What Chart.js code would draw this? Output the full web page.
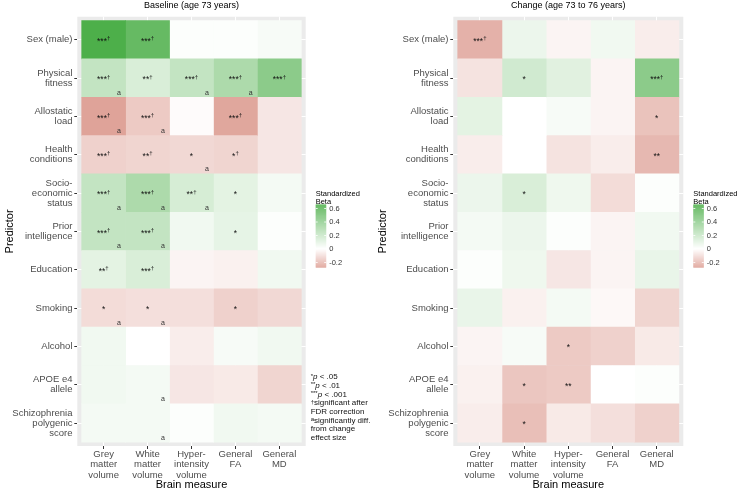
<!DOCTYPE html>
<html>
<head>
<meta charset="utf-8">
<title>Predictors of brain measures</title>
<script src="https://cdn.jsdelivr.net/npm/chart.js@4.4.1/dist/chart.umd.min.js"></script>
<style>
  html, body { margin: 0; padding: 0; background: #fff; }
  #wrap { position: relative; width: 738px; height: 490px; overflow: hidden; }
  canvas { position: absolute; top: 0; }
  #baseline { left: 0; width: 380px; height: 490px; }
  #change { left: 370px; width: 368px; height: 490px; }
</style>
</head>
<body>
<div id="wrap">
  <canvas id="baseline" width="380" height="490"></canvas>
  <canvas id="change" width="368" height="490"></canvas>
</div>
<script>
const FONT = "'Liberation Sans', Arial, Helvetica, sans-serif";

const predictors = [
  "Sex (male)",
  ["Physical", "fitness"],
  ["Allostatic", "load"],
  ["Health", "conditions"],
  ["Socio-", "economic", "status"],
  ["Prior", "intelligence"],
  "Education",
  "Smoking",
  "Alcohol",
  ["APOE e4", "allele"],
  ["Schizophrenia", "polygenic", "score"],
];
const measures = [
  ["Grey", "matter", "volume"],
  ["White", "matter", "volume"],
  ["Hyper-", "intensity", "volume"],
  ["General", "FA"],
  ["General", "MD"],
];

// standardized betas, rows = predictors, columns = brain measures
const baselineBeta = [
  [0.65, 0.56, 0.01, 0.01, 0.03],
  [0.22, 0.14, 0.22, 0.30, 0.42],
  [-0.26, -0.15, -0.01, -0.25, -0.07],
  [-0.13, -0.12, -0.11, -0.12, -0.07],
  [0.22, 0.30, 0.15, 0.10, 0.04],
  [0.22, 0.22, 0.05, 0.09, 0.01],
  [0.10, 0.14, -0.03, -0.04, 0.05],
  [-0.10, -0.09, -0.09, -0.13, -0.11],
  [0.05, 0.00, -0.05, 0.03, 0.05],
  [0.05, 0.04, -0.07, -0.06, -0.12],
  [0.04, 0.04, 0.01, 0.05, 0.04],
];
const changeBeta = [
  [-0.22, 0.07, -0.03, 0.05, -0.05],
  [-0.08, 0.17, 0.11, -0.03, 0.42],
  [0.10, 0.00, 0.03, -0.03, -0.17],
  [-0.05, 0.00, -0.08, -0.05, -0.20],
  [0.07, 0.14, 0.06, -0.10, 0.01],
  [0.04, 0.07, 0.01, -0.03, 0.05],
  [0.01, 0.06, -0.07, -0.03, 0.08],
  [0.08, -0.04, 0.04, -0.02, -0.12],
  [-0.03, 0.03, -0.15, -0.13, -0.06],
  [-0.04, -0.16, -0.15, 0.00, 0.01],
  [-0.05, -0.18, -0.06, -0.09, -0.13],
];

const baselineSig = [
  ["***†", "***†", "", "", ""],
  ["***†", "**†", "***†", "***†", "***†"],
  ["***†", "***†", "", "***†", ""],
  ["***†", "**†", "*", "*†", ""],
  ["***†", "***†", "**†", "*", ""],
  ["***†", "***†", "", "*", ""],
  ["**†", "***†", "", "", ""],
  ["*", "*", "", "*", ""],
  ["", "", "", "", ""],
  ["", "", "", "", ""],
  ["", "", "", "", ""],
];
const changeSig = [
  ["***†", "", "", "", ""],
  ["", "*", "", "", "***†"],
  ["", "", "", "", "*"],
  ["", "", "", "", "**"],
  ["", "*", "", "", ""],
  ["", "", "", "", ""],
  ["", "", "", "", ""],
  ["", "", "", "", ""],
  ["", "", "*", "", ""],
  ["", "*", "**", "", ""],
  ["", "*", "", "", ""],
];
// 1 = baseline effect significantly different from change effect
const baselineDiff = [
  [0, 0, 0, 0, 0],
  [1, 0, 1, 1, 0],
  [1, 1, 0, 0, 0],
  [0, 0, 1, 0, 0],
  [1, 1, 1, 0, 0],
  [1, 1, 0, 0, 0],
  [0, 0, 0, 0, 0],
  [1, 1, 0, 0, 0],
  [0, 0, 0, 0, 0],
  [0, 1, 0, 0, 0],
  [0, 1, 0, 0, 0],
];

const legendTicks = [0.6, 0.4, 0.2, 0, -0.2];
const legendRange = [-0.27, 0.66];
const footnoteSup = ["*", "**", "***", "†", "", "a", "", ""];
const footnoteText = ["p < .05", "p < .01", "p < .001", "significant after", "FDR correction", "significantly diff.", "from change", "effect size"];

const HIGH = [77, 175, 74];
const LOW = [175, 25, 0];
const LIMIT = 0.65;

function betaColor(v) {
  const t = Math.min(Math.abs(v) / LIMIT, 1);
  const c = v >= 0 ? HIGH : LOW;
  const mix = (i) => Math.round(255 + (c[i] - 255) * t);
  return `rgb(${mix(0)}, ${mix(1)}, ${mix(2)})`;
}

function drawStars(ctx, label, cx, cy) {
  const stars = label.replace("†", "");
  const dagger = label.includes("†") ? "†" : "";
  ctx.font = `8.5px ${FONT}`;
  const ws = ctx.measureText(stars).width;
  ctx.font = `6px ${FONT}`;
  const wd = dagger ? ctx.measureText(dagger).width : 0;
  const x0 = cx - (ws + wd) / 2;
  ctx.textAlign = "left";
  ctx.textBaseline = "middle";
  ctx.font = `8.5px ${FONT}`;
  ctx.fillText(stars, x0, cy + 1.8);
  if (dagger) {
    ctx.font = `6px ${FONT}`;
    ctx.fillText(dagger, x0 + ws, cy - 1);
  }
}

const annotations = {
  id: "annotations",
  afterDatasetsDraw(chart, args, opts) {
    const { ctx, scales: { x, y } } = chart;
    ctx.save();
    ctx.fillStyle = "#111";
    opts.sig.forEach((row, r) => row.forEach((label, c) => {
      if (label) drawStars(ctx, label, x.getPixelForValue(c + 0.5), y.getPixelForValue(r));
      if (opts.diff && opts.diff[r][c]) {
        ctx.font = `7px ${FONT}`;
        ctx.textAlign = "center";
        ctx.textBaseline = "middle";
        ctx.fillStyle = "#333";
        ctx.fillText("a", x.getPixelForValue(c + 0.85), y.getPixelForValue(r + 0.38));
        ctx.fillStyle = "#111";
      }
    }));
    ctx.restore();
  },
};

const panelDecor = {
  id: "panelDecor",
  beforeDraw(chart) {
    const { ctx, chartArea: a } = chart;
    ctx.save();
    ctx.fillStyle = "#ebebeb";
    ctx.fillRect(a.left, a.top, a.right - a.left, a.bottom - a.top);
    ctx.restore();
  },
  afterDraw(chart, args, opts) {
    const { ctx, chartArea: a } = chart;
    ctx.save();
    // panel title
    ctx.fillStyle = "#000";
    ctx.font = `9px ${FONT}`;
    ctx.textAlign = "center";
    ctx.textBaseline = "middle";
    ctx.fillText(opts.title, (a.left + a.right) / 2, 6);

    // colour bar legend
    const lx = a.right + 10;
    const valueY = (v) => 249 - v * 67.5;
    ctx.textAlign = "left";
    ctx.font = `7.5px ${FONT}`;
    ctx.fillText("Standardized", lx, 194);
    ctx.fillText("Beta", lx, 201.5);
    const top = valueY(legendRange[1]);
    const bottom = valueY(legendRange[0]);
    for (let py = top; py < bottom; py += 1) {
      ctx.fillStyle = betaColor((249 - py - 0.5) / 67.5);
      ctx.fillRect(lx, py, 10.5, 1.2);
    }
    ctx.strokeStyle = "#fff";
    ctx.lineWidth = 0.8;
    legendTicks.forEach((t) => {
      const py = valueY(t);
      ctx.beginPath();
      ctx.moveTo(lx, py); ctx.lineTo(lx + 2, py);
      ctx.moveTo(lx + 8.5, py); ctx.lineTo(lx + 10.5, py);
      ctx.stroke();
      ctx.fillStyle = "#333";
      ctx.fillText(String(t), lx + 13.5, py);
    });

    // footnotes
    if (opts.footnotes) {
      const fx = a.right + 5;
      footnoteText.forEach((text, i) => {
        const fy = 377 + i * 8.7;
        let x = fx;
        ctx.fillStyle = "#111";
        if (footnoteSup[i]) {
          ctx.font = `6px ${FONT}`;
          ctx.fillText(footnoteSup[i], x, fy - 1);
          x += ctx.measureText(footnoteSup[i]).width;
        }
        let rest = text;
        if (text.startsWith("p ")) {
          ctx.font = `italic 8px ${FONT}`;
          ctx.fillText("p", x, fy);
          x += ctx.measureText("p").width;
          rest = text.slice(1);
        }
        ctx.font = `8px ${FONT}`;
        ctx.fillText(rest, x, fy);
      });
    }
    ctx.restore();
  },
};

function axisGrid() {
  return { color: "#ffffff", lineWidth: 1, tickColor: "#333333", tickLength: 3, tickWidth: 1, offset: false };
}

function heatmap(canvasId, title, betas, sig, diff, layout) {
  const datasets = measures.map((m, c) => ({
    label: m.join(" "),
    data: predictors.map((p, r) => ({ x: [c, c + 1], y: r })),
    backgroundColor: betas.map((row) => betaColor(row[c])),
    borderWidth: 0,
    grouped: false,
    barPercentage: 1,
    categoryPercentage: 1,
  }));

  return new Chart(document.getElementById(canvasId), {
    type: "bar",
    data: { datasets },
    plugins: [panelDecor, annotations],
    options: {
      indexAxis: "y",
      responsive: false,
      animation: false,
      events: [],
      layout: { padding: { top: 12.3, right: layout.padRight, left: 0, bottom: 0 } },
      plugins: {
        legend: { display: false },
        tooltip: { enabled: false },
        panelDecor: { title, footnotes: layout.footnotes },
        annotations: { sig, diff },
      },
      scales: {
        x: {
          type: "linear",
          min: -0.1,
          max: 5.1,
          afterBuildTicks: (axis) => { axis.ticks = measures.map((_, i) => ({ value: i + 0.5 })); },
          afterFit: (axis) => { axis.height = 44; },
          grid: axisGrid(),
          border: { display: false },
          ticks: {
            callback: (value) => measures[Math.floor(value)],
            color: "#4d4d4d",
            font: { family: FONT, size: 9.5, lineHeight: 1.1 },
            padding: 0,
            autoSkip: false,
            maxRotation: 0,
          },
          title: {
            display: true,
            text: "Brain measure",
            color: "#000",
            font: { family: FONT, size: 11, lineHeight: 1 },
            padding: { top: 0, bottom: 0 },
          },
        },
        y: {
          type: "linear",
          min: -0.6,
          max: 10.6,
          reverse: true,
          offset: false,
          afterBuildTicks: (axis) => { axis.ticks = predictors.map((_, i) => ({ value: i })); },
          afterFit: (axis) => { axis.width = layout.yWidth; },
          grid: axisGrid(),
          border: { display: false },
          ticks: {
            callback: (value) => predictors[value],
            color: "#4d4d4d",
            font: { family: FONT, size: 9.5, lineHeight: 1.05 },
            padding: 1.8,
            autoSkip: false,
          },
          title: {
            display: true,
            text: "Predictor",
            color: "#000",
            font: { family: FONT, size: 11, lineHeight: 1 },
            padding: { top: layout.titlePad, bottom: 0 },
          },
        },
      },
    },
  });
}

heatmap("baseline", "Baseline (age 73 years)", baselineBeta, baselineSig, baselineDiff,
  { padRight: 74.3, yWidth: 77.3, titlePad: 4.5, footnotes: true });
heatmap("change", "Change (age 73 to 76 years)", changeBeta, changeSig, null,
  { padRight: 54.7, yWidth: 83.3, titlePad: 7, footnotes: false });
</script>
</body>
</html>
